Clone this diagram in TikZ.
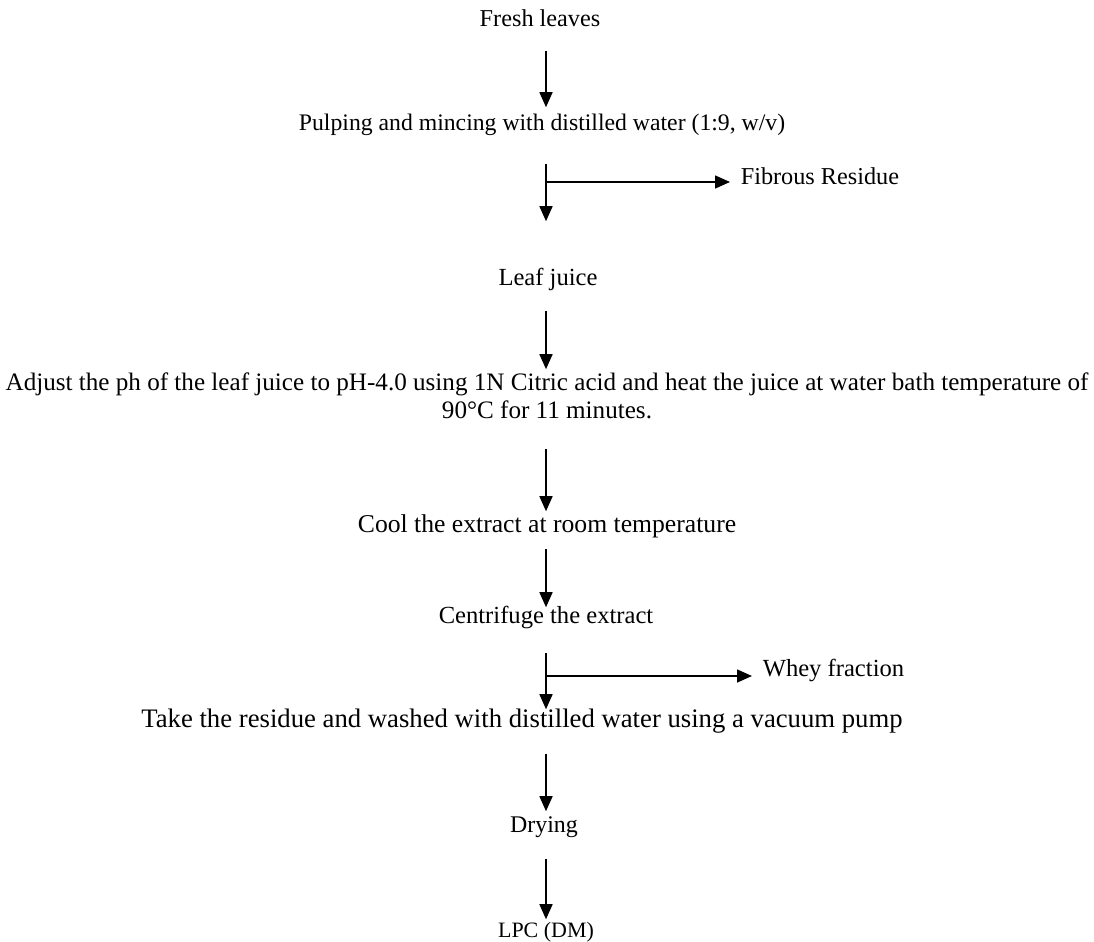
\documentclass[tikz,border=0pt]{standalone}
\usepackage{fontspec}
\setmainfont{Liberation Serif}
\usetikzlibrary{arrows.meta}
\begin{document}
\begin{tikzpicture}[x=0.02cm,y=-0.02cm,
  every node/.style={inner sep=0pt,anchor=base,text height=8.25pt,text depth=2.85pt,
    font=\fontsize{14}{15.9}\selectfont},
  >={Triangle[length=0.3cm,width=0.26cm]},line width=0.9pt]
\useasboundingbox (0,0) rectangle (1094,942);
\coordinate(spine) at (546,0);
\node(fresh) at (540,27)[font=\fontsize{13.8}{15.9}\selectfont]                     {Fresh leaves};
\node(pulp) at (542,131)[font=\fontsize{13.5}{15.9}\selectfont]                     {Pulping and mincing with distilled water (1:9, w/v)};
\node(fib) at (740,185)[anchor=base west,font=\fontsize{13.8}{15.9}\selectfont]     {Fibrous Residue};
\node(juice) at (548,285)                                                           {Leaf juice};
\node(adj) at (547,418)[align=center,text height=24.2pt,font=\fontsize{14.3}{15.9}\selectfont]
  {Adjust the ph of the leaf juice to pH-4.0 using 1N Citric acid and heat the juice at water bath temperature of\\ 90\textdegree C for 11 minutes.};
\node(cool) at (547,532)[font=\fontsize{14.6}{15.9}\selectfont]                     {Cool the extract at room temperature};
\node(centri) at (546,623)                                                          {Centrifuge the extract};
\node(whey) at (762,676)[anchor=base west]                                          {Whey fraction};
\node(wash) at (522,727)[font=\fontsize{15.2}{15.9}\selectfont]                     {Take the residue and washed with distilled water using a vacuum pump};
\node(dry) at (544,832)[font=\fontsize{13.6}{15.9}\selectfont]                      {Drying};
\node(lpc) at (546,937)[font=\fontsize{12.5}{15.9}\selectfont]                      {LPC (DM)};
\coordinate(split1) at (546,182);
\coordinate(split2) at (546,676);

\path [->]
  (fresh.south -| spine)  edge [shorten <=0.36cm,shorten >=0.17cm]  (pulp.north -| spine)
  (pulp.south -| spine)   edge [shorten <=0.54cm,shorten >=0.97cm]  (juice.north -| spine)
  (juice.south -| spine)  edge [shorten <=0.4cm,shorten >=0.11cm]   (adj.north -| spine)
  (adj.south -| spine)    edge [shorten <=0.5cm,shorten >=0.11cm]   (cool.north -| spine)
  (cool.south -| spine)   edge [shorten <=0.22cm,shorten >=0.01cm]  (centri.north -| spine)
  (centri.south -| spine) edge [shorten <=0.48cm,shorten >=0.05cm]  (wash.north -| spine)
  (wash.south -| spine)   edge [shorten <=0.42cm,shorten >=0.11cm]  (dry.north -| spine)
  (dry.south -| spine)    edge [shorten <=0.42cm,shorten >=0.05cm]  (lpc.north -| spine)
  (split1)                edge [shorten >=0.2cm]                     (fib.west |- split1)
  (split2)                edge [shorten >=0.2cm]                     (whey.west |- split2);

\end{tikzpicture}
\end{document}
